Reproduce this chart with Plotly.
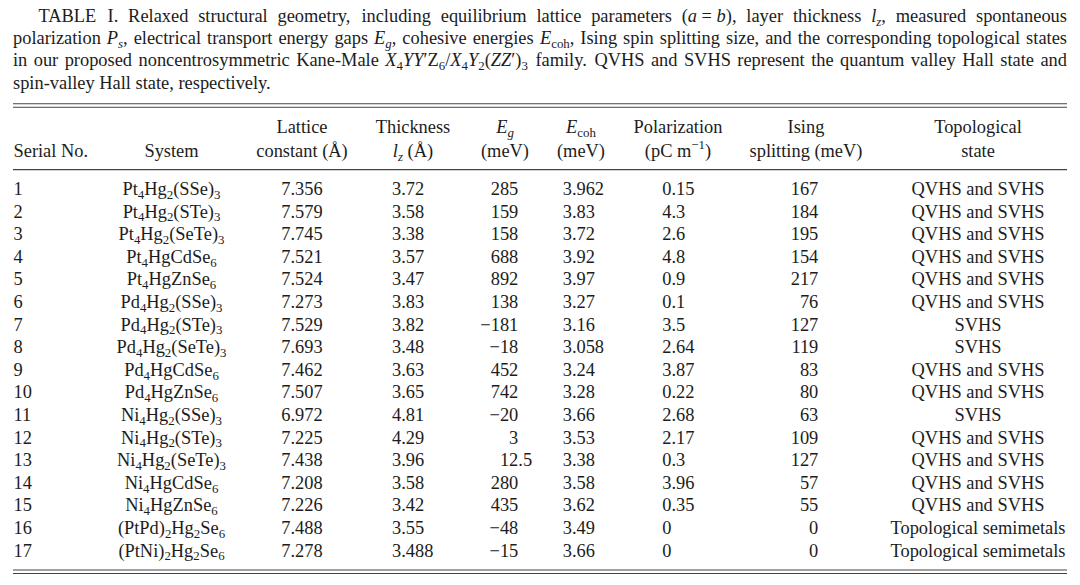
import re
import plotly.graph_objects as go

# ---------------- data ----------------
serial = list(range(1, 18))
systems = [
    "Pt<sub>4</sub>Hg<sub>2</sub>(SSe)<sub>3</sub>",
    "Pt<sub>4</sub>Hg<sub>2</sub>(STe)<sub>3</sub>",
    "Pt<sub>4</sub>Hg<sub>2</sub>(SeTe)<sub>3</sub>",
    "Pt<sub>4</sub>HgCdSe<sub>6</sub>",
    "Pt<sub>4</sub>HgZnSe<sub>6</sub>",
    "Pd<sub>4</sub>Hg<sub>2</sub>(SSe)<sub>3</sub>",
    "Pd<sub>4</sub>Hg<sub>2</sub>(STe)<sub>3</sub>",
    "Pd<sub>4</sub>Hg<sub>2</sub>(SeTe)<sub>3</sub>",
    "Pd<sub>4</sub>HgCdSe<sub>6</sub>",
    "Pd<sub>4</sub>HgZnSe<sub>6</sub>",
    "Ni<sub>4</sub>Hg<sub>2</sub>(SSe)<sub>3</sub>",
    "Ni<sub>4</sub>Hg<sub>2</sub>(STe)<sub>3</sub>",
    "Ni<sub>4</sub>Hg<sub>2</sub>(SeTe)<sub>3</sub>",
    "Ni<sub>4</sub>HgCdSe<sub>6</sub>",
    "Ni<sub>4</sub>HgZnSe<sub>6</sub>",
    "(PtPd)<sub>2</sub>Hg<sub>2</sub>Se<sub>6</sub>",
    "(PtNi)<sub>2</sub>Hg<sub>2</sub>Se<sub>6</sub>",
]
lattice = [7.356, 7.579, 7.745, 7.521, 7.524, 7.273, 7.529, 7.693, 7.462,
           7.507, 6.972, 7.225, 7.438, 7.208, 7.226, 7.488, 7.278]
thickness = [3.72, 3.58, 3.38, 3.57, 3.47, 3.83, 3.82, 3.48, 3.63,
             3.65, 4.81, 4.29, 3.96, 3.58, 3.42, 3.55, 3.488]
eg = [285, 159, 158, 688, 892, 138, -181, -18, 452,
      742, -20, 3, 12.5, 280, 435, -48, -15]
ecoh = [3.962, 3.83, 3.72, 3.92, 3.97, 3.27, 3.16, 3.058, 3.24,
        3.28, 3.66, 3.53, 3.38, 3.58, 3.62, 3.49, 3.66]
polarization = [0.15, 4.3, 2.6, 4.8, 0.9, 0.1, 3.5, 2.64, 3.87,
                0.22, 2.68, 2.17, 0.3, 3.96, 0.35, 0, 0]
ising = [167, 184, 195, 154, 217, 76, 127, 119, 83,
         80, 63, 109, 127, 57, 55, 0, 0]
topo = ["QVHS and SVHS"] * 6 + ["SVHS", "SVHS", "QVHS and SVHS", "QVHS and SVHS",
        "SVHS"] + ["QVHS and SVHS"] * 4 + ["Topological semimetals"] * 2

header_top = ["", "", "Lattice", "Thickness", "<i>E<sub>g</sub></i>",
              "<i>E</i><sub>coh</sub>", "Polarization", "Ising", "Topological"]
header_bot = ["Serial No.", "System", "constant (Å)", "<i>l<sub>z</sub></i> (Å)",
              "(meV)", "(meV)", "(pC m<sup>−1</sup>)", "splitting (meV)", "state"]

caption_lines = [
    ["TABLE", "I.", "Relaxed", "structural", "geometry,", "including", "equilibrium",
     "lattice", "parameters", "(<i>a</i> = <i>b</i>),", "layer", "thickness",
     "<i>l<sub>z</sub></i>,", "measured", "spontaneous"],
    ["polarization", "<i>P<sub>s</sub></i>,", "electrical", "transport", "energy", "gaps",
     "<i>E<sub>g</sub></i>,", "cohesive", "energies", "<i>E</i><sub>coh</sub>,", "Ising",
     "spin", "splitting", "size,", "and", "the", "corresponding", "topological", "states"],
    ["in", "our", "proposed", "noncentrosymmetric", "Kane-Male",
     "<i>X</i><sub>4</sub><i>YY</i>′Z<sub>6</sub>/<i>X</i><sub>4</sub><i>Y</i><sub>2</sub>(<i>ZZ</i>′)<sub>3</sub>",
     "family.", "QVHS", "and", "SVHS", "represent", "the", "quantum", "valley", "Hall",
     "state", "and"],
    ["spin-valley Hall state, respectively."],
]

# ---------------- layout constants ----------------
FONT = "Liberation Serif"
FS = 18.4
TXT = "#1c1c1c"
RULE = "#444444"
LEFT, RIGHT = 13.0, 1067.0
ROW_H = 22.6
BASE1 = 195.0                 # baseline of first data row (px)
P0 = BASE1 - 0.25 * FS        # text anchor of first row (px)


def py(p_base):
    """pixel baseline -> row-axis units"""
    return 1 + (p_base - 0.25 * FS - P0) / ROW_H


def py_line(p):
    return 1 + (p - P0) / ROW_H


ROMAN = {' ': .25, '!': .333, '(': .333, ')': .333, ',': .25, '-': .333, '.': .25,
         '/': .278, ':': .278, '=': .564, '′': .25, '−': .564}
for d in "0123456789":
    ROMAN[d] = .5
ROMAN.update(dict(zip("ABCDEFGHIJKLMNOPQRSTUVWXYZ",
                      [.722, .667, .667, .722, .611, .556, .722, .722, .333, .389, .722, .611, .889,
                       .722, .722, .556, .722, .667, .556, .611, .722, .722, .944, .722, .722, .611])))
ROMAN.update(dict(zip("abcdefghijklmnopqrstuvwxyz",
                      [.444, .5, .444, .5, .444, .333, .5, .5, .278, .278, .5, .278, .778,
                       .5, .5, .5, .5, .333, .389, .278, .5, .5, .722, .5, .5, .444])))
ITALIC = dict(ROMAN)
ITALIC.update(dict(zip("abcdefghijklmnopqrstuvwxyz",
                       [.5, .5, .444, .5, .444, .278, .5, .5, .278, .278, .444, .278, .722,
                        .5, .5, .5, .5, .389, .389, .278, .5, .444, .667, .444, .444, .389])))
ITALIC.update(dict(zip("ABCDEFGHIJKLMNOPQRSTUVWXYZ",
                       [.611, .611, .667, .722, .611, .611, .722, .722, .333, .444, .667, .556, .833,
                        .667, .722, .611, .722, .611, .5, .556, .722, .611, .833, .611, .556, .556])))


def width_em(rich):
    it = 0
    sm = 0
    w = 0.0
    for tok in re.split(r'(<[^>]+>)', rich):
        if tok.startswith('<'):
            closing = tok.startswith('</')
            tag = tok.strip('<>/').lower()
            if tag == 'i':
                it += -1 if closing else 1
            elif tag in ('sub', 'sup'):
                sm += -1 if closing else 1
            continue
        for ch in tok:
            tbl = ITALIC if it else ROMAN
            w += tbl.get(ch, 0.5) * (0.7 if sm else 1.0)
    return w


def fmt(v):
    return f"{v:g}".replace("-", "−")


fig = go.Figure()


def add_text(xs, ys, texts, pos):
    fig.add_trace(go.Scatter(
        x=xs, y=ys, text=texts, mode="text", textposition=pos,
        textfont=dict(family=FONT, size=FS, color=TXT),
        hoverinfo="skip", showlegend=False, cliponaxis=False))


# ---------------- caption (justified) ----------------
cap_base = [22.0, 44.2, 66.4, 88.6]
cap_start = [38.5, LEFT, LEFT, LEFT]
for li, words in enumerate(caption_lines):
    widths = [width_em(w) * FS for w in words]
    if len(words) > 1:
        gap = (RIGHT - cap_start[li] - sum(widths)) / (len(words) - 1)
    else:
        gap = 0
    xs = []
    x = cap_start[li]
    for w in widths:
        xs.append(x)
        x += w + gap
    add_text(xs, [py(cap_base[li])] * len(words), words, "middle right")

# ---------------- header ----------------
col_center = [LEFT + 0.5, 171.5, 302.0, 413.0, 505.0, 581.0, 678.0, 806.0, 978.0]
hb1, hb2 = 133.0, 157.0
add_text([col_center[0]], [py(hb2)], [header_bot[0]], "middle right")
add_text(col_center[1:], [py(hb1)] * 8, header_top[1:], "middle center")
add_text(col_center[1:], [py(hb2)] * 8, header_bot[1:], "middle center")

# ---------------- body ----------------
n = len(serial)
add_text([LEFT + 0.5] * n, serial, [str(s) for s in serial], "middle right")
add_text([171.5] * n, serial, systems, "middle center")
add_text([302.0] * n, serial, [fmt(v) for v in lattice], "middle center")
add_text([392.0] * n, serial, [fmt(v) for v in thickness], "middle right")
eg_int = [fmt(v).split(".")[0] for v in eg]
eg_frac = ["." + fmt(v).split(".")[1] if "." in fmt(v) else "" for v in eg]
add_text([518.3] * n, serial, eg_int, "middle left")
add_text([518.3] * n, serial, eg_frac, "middle right")
add_text([562.7] * n, serial, [fmt(v) for v in ecoh], "middle right")
add_text([662.3] * n, serial, [fmt(v) for v in polarization], "middle right")
add_text([818.3] * n, serial, [fmt(v) for v in ising], "middle left")
add_text([978.0] * n, serial, topo, "middle center")

# ---------------- rules ----------------
shapes = []
for p in [103.8, 107.2, 169.6, 570.0, 573.5]:
    shapes.append(dict(type="line", xref="x", yref="y", x0=LEFT, x1=RIGHT,
                       y0=py_line(p), y1=py_line(p),
                       line=dict(color=RULE, width=1.1)))

fig.update_layout(
    width=1080, height=585,
    margin=dict(l=0, r=0, t=0, b=0),
    paper_bgcolor="white", plot_bgcolor="white",
    xaxis=dict(range=[0, 1080], visible=False, fixedrange=True),
    yaxis=dict(range=[py_line(585), py_line(0)], visible=False, fixedrange=True),
    shapes=shapes, showlegend=False,
)

fig.write_html(
    "out.html",
    config={"displayModeBar": False},
    post_script="document.body.style.margin='0';document.body.style.padding='0';"
                "document.body.style.overflow='hidden';",
)
